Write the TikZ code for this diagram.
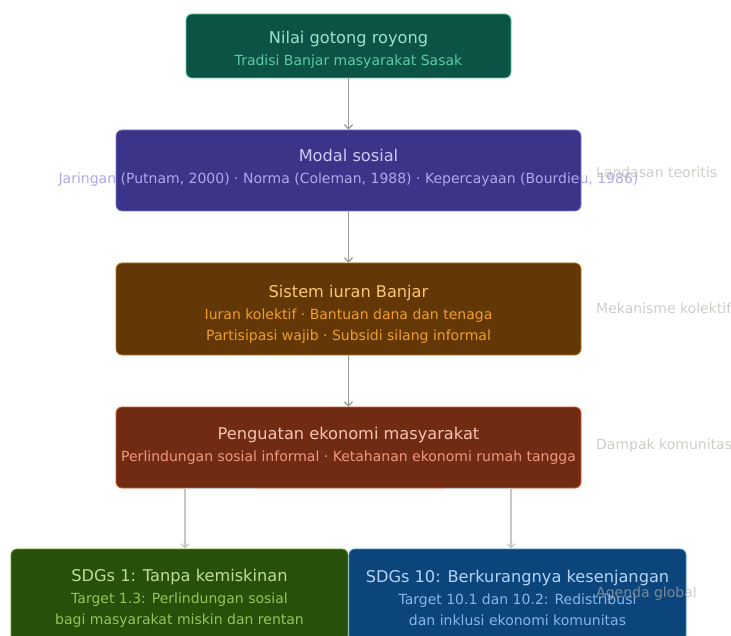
\documentclass[tikz,border=0pt]{standalone}
\usepackage{fontspec}
\setmainfont{DejaVu Sans}
\usetikzlibrary{arrows.meta,positioning}

\definecolor{grnfill}{HTML}{0B5345}
\definecolor{grnline}{HTML}{5DCAA5}
\definecolor{grnttl}{HTML}{9FE1CB}
\definecolor{grnsub}{HTML}{5DCAA5}
\definecolor{purfill}{HTML}{3C3489}
\definecolor{purline}{HTML}{7F77DD}
\definecolor{purttl}{HTML}{CECBF6}
\definecolor{pursub}{HTML}{AFA9EC}
\definecolor{ambfill}{HTML}{633806}
\definecolor{ambline}{HTML}{BA7517}
\definecolor{ambttl}{HTML}{FAC775}
\definecolor{ambsub}{HTML}{EF9F27}
\definecolor{corfill}{HTML}{712B13}
\definecolor{corline}{HTML}{D85A30}
\definecolor{corttl}{HTML}{F5C4B3}
\definecolor{corsub}{HTML}{F0997B}
\definecolor{olvfill}{HTML}{27500A}
\definecolor{olvline}{HTML}{639922}
\definecolor{olvttl}{HTML}{C0DD97}
\definecolor{olvsub}{HTML}{97C459}
\definecolor{blufill}{HTML}{0C447C}
\definecolor{bluline}{HTML}{378ADD}
\definecolor{bluttl}{HTML}{B5D4F4}
\definecolor{blusub}{HTML}{85B7EB}
\definecolor{sidegray}{HTML}{B4B2A9}

% title line (optional strut height), sub line (optional strut depth)
\newcommand{\boxttl}[3][12pt]{{\fontsize{16.2}{21}\selectfont\color{#2}\rule{0pt}{#1}#3}}
\newcommand{\boxsub}[3][0pt]{{\color{#2}\rule[-#1]{0pt}{#1}#3}}

\begin{document}
\begin{tikzpicture}[x=1pt, y=-1pt,
    box/.style={rounded corners=6pt, line width=0.8pt, align=center, inner sep=0pt, font=\fontsize{14}{21}\selectfont},
    arr/.style={-{Straight Barb[length=4pt, width=8pt]}, line width=1.3pt, black!40},
    arrlt/.style={-{Straight Barb[length=4pt, width=8pt]}, line width=1.3pt, black!22},
    side/.style={anchor=west, inner sep=0pt, font=\fontsize{14}{16}\selectfont, text=sidegray, text opacity=0.65},
]
\clip (0,0) rectangle (731,636);

% Main chain
\node[box, fill=grnfill, draw=grnline, minimum width=325pt, minimum height=64pt] (nilai) at (348.5,46) {\boxttl[20pt]{grnttl}{Nilai gotong royong}\\[1pt]\boxsub{grnsub}{Tradisi Banjar masyarakat Sasak}};
\node[box, fill=purfill, draw=purline, minimum width=465pt, minimum height=81pt] (modal) at (348.5,170.5) {\boxttl{purttl}{Modal sosial}\\[1pt]\makebox[0pt][c]{\boxsub[9.3pt]{pursub}{Jaringan (Putnam, 2000) · Norma (Coleman, 1988) · Kepercayaan (Bourdieu, 1986)}}};
\node[box, fill=ambfill, draw=ambline, minimum width=465pt, minimum height=92pt] (iuran) at (348.5,309) {\boxttl[22pt]{ambttl}{Sistem iuran Banjar}\\[1pt]\boxsub{ambsub}{Iuran kolektif · Bantuan dana dan tenaga}\\\boxsub{ambsub}{Partisipasi wajib · Subsidi silang informal}};
\node[box, fill=corfill, draw=corline, minimum width=465pt, minimum height=81pt] (penguatan) at (348.5,447.5) {\boxttl{corttl}{Penguatan ekonomi masyarakat}\\[1pt]\boxsub[6pt]{corsub}{Perlindungan sosial informal · Ketahanan ekonomi rumah tangga}};

% SDGs
\node[box, fill=olvfill, draw=olvline, minimum width=337pt, minimum height=92pt] (sdgsatu) at (179.5,595) {\boxttl[19pt]{olvttl}{SDGs 1: Tanpa kemiskinan}\\[1pt]\boxsub{olvsub}{Target 1.3: Perlindungan sosial}\\\boxsub{olvsub}{bagi masyarakat miskin dan rentan}};
\node[box, fill=blufill, draw=bluline, minimum width=337pt, minimum height=92pt] (sdgsepuluh) at (517.5,595) {\boxttl[19pt]{bluttl}{SDGs 10: Berkurangnya kesenjangan}\\[1pt]\boxsub{blusub}{Target 10.1 dan 10.2: Redistribusi}\\\boxsub{blusub}{dan inklusi ekonomi komunitas}};

% Arrows
\draw[arr] (nilai) -- (modal);
\draw[arr] (modal) -- (iuran);
\draw[arr] (iuran) -- (penguatan);
\draw[arrlt] ([xshift=-93.5pt]penguatan.south) -| ([xshift=5.5pt]sdgsatu.north);
\draw[arrlt] ([xshift=94.5pt]penguatan.south) -| ([xshift=-6.5pt]sdgsepuluh.north);

% Side labels
\node[side] (landasan) at (596,172) {Landasan teoritis};
\node[side] (mekanisme) at (596,308) {Mekanisme kolektif};
\node[side] (dampak) at (596,446) {Dampak komunitas};
\node[side] (agenda) at (596,594) {Agenda global};

\end{tikzpicture}
\end{document}
